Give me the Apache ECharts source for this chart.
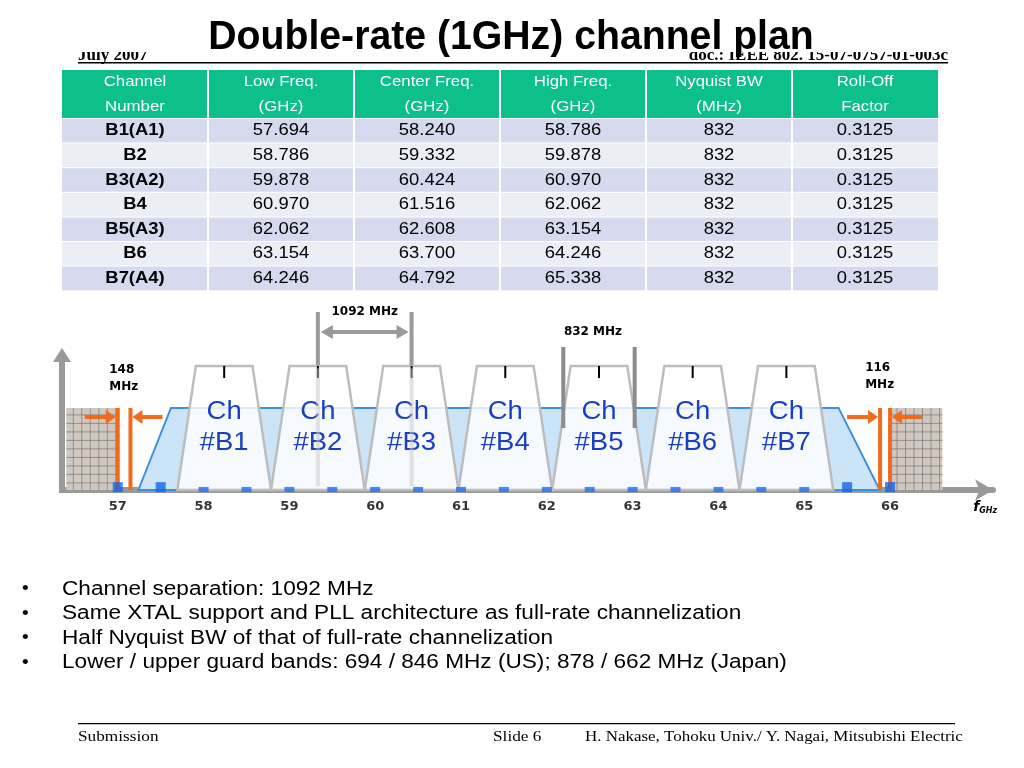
<!DOCTYPE html>
<html><head><meta charset="utf-8">
<script src="https://cdn.jsdelivr.net/npm/echarts@6/dist/echarts.min.js"></script>
<style>html,body{margin:0;padding:0;background:#fff}#c{width:1024px;height:768px}</style>
</head><body><div id="c"></div>
<script>
const channels = ['B1(A1)','B2','B3(A2)','B4','B5(A3)','B6','B7(A4)'];
const lowFreq = [57.694,58.786,59.878,60.970,62.062,63.154,64.246];
const centerFreq = [58.240,59.332,60.424,61.516,62.608,63.700,64.792];
const highFreq = [58.786,59.878,60.970,62.062,63.154,64.246,65.338];
const nyquistBW = [832,832,832,832,832,832,832];
const rollOff = ['0.3125','0.3125','0.3125','0.3125','0.3125','0.3125','0.3125'];
const headers1 = ['Channel','Low Freq.','Center Freq.','High Freq.','Nyquist BW','Roll-Off'];
const headers2 = ['Number','(GHz)','(GHz)','(GHz)','(MHz)','Factor'];
const axisTicks = [57,58,59,60,61,62,63,64,65,66];
const fullRateEdges = [57.24, 65.88];
const guardLow = [57.0, 57.148];
const guardHigh = [65.884, 66.0];
const sepMarkers = [59.332, 60.424];
const bwMarkers = [62.192, 63.024];
const bigSquares = [57, 57.5, 65.5, 66];
const smallSquares = [58,58.5,59,59.5,60,60.5,61,61.5,62,62.5,63,63.5,64,64.5,65];
const bullets = ['Channel separation: 1092 MHz','Same XTAL support and PLL architecture as full-rate channelization','Half Nyquist BW of that of full-rate channelization','Lower / upper guard bands: 694 / 846 MHz (US); 878 / 662 MHz (Japan)'];

const F = 'Liberation Sans, Arial, sans-serif';
const chart = echarts.init(document.getElementById('c'));
const g = [];
g.push({type:'text',x:78,y:56,style:{text:'July 2007',font:'bold 17px Liberation Serif',fill:'#000',verticalAlign:'middle'}});
g.push({type:'text',x:948,y:56,style:{text:'doc.: IEEE 802. 15-07-0757-01-003c',font:'bold 17px Liberation Serif',fill:'#000',align:'right',verticalAlign:'middle'}});
g.push({type:'rect',shape:{x:78,y:62,width:870,height:1.5},style:{fill:'#000'}});
g.push({type:'rect',shape:{x:0,y:0,width:1024,height:52},style:{fill:'#fff'}});
g.push({type:'text',x:511,y:38,scaleX:0.98,style:{text:'Double-rate (1GHz) channel plan',font:'bold 40px '+F,fill:'#000',align:'center',verticalAlign:'middle'}});
const colX=[62,208,354,500,646,792,938];
g.push({type:'rect',shape:{x:62,y:70,width:876,height:48},style:{fill:'#0dbf8b'}});
for(let i=0;i<6;i++){
  const cx=(colX[i]+colX[i+1])/2;
  g.push({type:'text',x:cx,y:82,scaleX:1.12,style:{text:headers1[i],font:'15px '+F,fill:'#fff',align:'center',verticalAlign:'middle'}});
  g.push({type:'text',x:cx,y:107,scaleX:1.12,style:{text:headers2[i],font:'15px '+F,fill:'#fff',align:'center',verticalAlign:'middle'}});
  if(i>0) g.push({type:'rect',shape:{x:colX[i]-1,y:70,width:2,height:221},style:{fill:'#fff'}});
}
for(let r=0;r<channels.length;r++){
  const y=119+r*24.6;
  g.push({type:'rect',z:-1,shape:{x:62,y:y,width:876,height:23.6},style:{fill:r%2?'#eceef6':'#d5daee'}});
  const vals=[channels[r],lowFreq[r].toFixed(3),centerFreq[r].toFixed(3),highFreq[r].toFixed(3),String(nyquistBW[r]),rollOff[r]];
  for(let i=0;i<6;i++) g.push({type:'text',x:(colX[i]+colX[i+1])/2,y:y+12,scaleX:1.15,style:{text:vals[i],font:(i==0?'bold ':'')+'16px '+F,fill:'#000',align:'center',verticalAlign:'middle'}});
}
bullets.forEach((b,i)=>{
  g.push({type:'text',x:22,y:589+i*24.5,style:{text:'•',font:'19px '+F,fill:'#000',verticalAlign:'middle'}});
  g.push({type:'text',x:62,y:589+i*24.5,scaleX:1.13,style:{text:b,font:'20px '+F,fill:'#000',verticalAlign:'middle'}});
});
g.push({type:'rect',shape:{x:78,y:723,width:877,height:1.2},style:{fill:'#000'}});
g.push({type:'text',x:78,y:737,scaleX:1.15,style:{text:'Submission',font:'15px Liberation Serif',fill:'#000',verticalAlign:'middle'}});
g.push({type:'text',x:493,y:737,scaleX:1.15,style:{text:'Slide 6',font:'15px Liberation Serif',fill:'#000',verticalAlign:'middle'}});
g.push({type:'text',x:585,y:737,scaleX:1.13,style:{text:'H. Nakase, Tohoku Univ./ Y. Nagai, Mitsubishi Electric',font:'15px Liberation Serif',fill:'#000',verticalAlign:'middle'}});

const BLUE_TOP=0.432, CH_TOP=0.653;
function line(a,b,stroke,w){return {type:'line',shape:{x1:a[0],y1:a[1],x2:b[0],y2:b[1]},style:{stroke:stroke,lineWidth:w}};}

const series = [
  {type:'custom',z:2,data:[fullRateEdges],renderItem:(p,api)=>{
    const a=api.value(0),b=api.value(1);
    const pts=[api.coord([a,0]),api.coord([57.62,BLUE_TOP]),api.coord([65.40,BLUE_TOP]),api.coord([b,0])];
    return {type:'polygon',shape:{points:pts},style:{fill:'#cce4f7',stroke:'#3d8fe0',lineWidth:2}};
  }},
  {type:'custom',z:2,data:[[56.40,guardLow[0]],[guardHigh[1],66.61]],renderItem:(p,api)=>{
    const p0=api.coord([api.value(0),BLUE_TOP]),p1=api.coord([api.value(1),0]);
    const ch=[{type:'rect',shape:{x:p0[0],y:p0[1],width:p1[0]-p0[0],height:p1[1]-p0[1]},style:{fill:'#d0c8c0'}}];
    for(let x=p0[0]+7;x<p1[0];x+=8.5) ch.push(line([x,p0[1]],[x,p1[1]],'#777',0.7));
    for(let y=p0[1]+7;y<p1[1];y+=8.5) ch.push(line([p0[0],y],[p1[0],y],'#777',0.7));
    return {type:'group',children:ch};
  }},
  {type:'custom',z:3,data:channels.map((c,i)=>[lowFreq[i],highFreq[i],centerFreq[i]]),renderItem:(p,api)=>{
    const l=api.value(0),h=api.value(1),c=api.value(2);
    const pts=[api.coord([l,0]),api.coord([c-0.33,CH_TOP]),api.coord([c+0.33,CH_TOP]),api.coord([h,0])];
    const t1=api.coord([c,CH_TOP]),t2=api.coord([c,0.589]);
    return {type:'group',children:[
      {type:'polygon',shape:{points:pts},style:{fill:'rgba(255,255,255,0.82)',stroke:'#bdbdbd',lineWidth:2.5}},
      line(t1,t2,'#000',2),
      {type:'text',x:t1[0],y:api.coord([c,0.33])[1],scaleX:1.1,style:{text:'Ch\n#'+channels[p.dataIndex].slice(0,2),font:'25px '+F,fill:'#1a3fc0',align:'center',verticalAlign:'middle',lineHeight:31}}
    ]};
  }},
  {type:'custom',z:5,data:[[guardLow[0],guardLow[1],-1],[guardHigh[0],guardHigh[1],1]],renderItem:(p,api)=>{
    const a=api.value(0),b=api.value(1);
    const A0=api.coord([a,0]),A1=api.coord([a,BLUE_TOP]),B0=api.coord([b,0]),B1=api.coord([b,BLUE_TOP]);
    const y=api.coord([a,0.384])[1];
    const o='#f26a1b';
    function arrow(x1,x2){const d=x2>x1?1:-1;return [line([x1,y],[x2-d*8,y],o,4),{type:'polygon',shape:{points:[[x2,y],[x2-d*10,y-7],[x2-d*10,y+7]]},style:{fill:o}}];}
    return {type:'group',children:[line(A0,A1,o,4),line(B0,B1,o,4)].concat(arrow(A0[0]-33,A0[0]-2),arrow(B0[0]+32,B0[0]+2))};
  }},
  {type:'custom',z:6,data:[[sepMarkers[0],sepMarkers[1],0],[bwMarkers[0],bwMarkers[1],1]],renderItem:(p,api)=>{
    const a=api.value(0),b=api.value(1),k=api.value(2);
    const ch=[];
    if(k===0){
      ch.push(line(api.coord([a,0.937]),api.coord([a,0.658]),'#9a9a9a',4),line(api.coord([b,0.937]),api.coord([b,0.658]),'#9a9a9a',4));
      ch.push(line(api.coord([a,0.64]),api.coord([a,0.02]),'rgba(200,200,200,0.5)',4),line(api.coord([b,0.64]),api.coord([b,0.02]),'rgba(200,200,200,0.5)',4));
      const A=api.coord([a,0.832]),B=api.coord([b,0.832]);
      ch.push(line([A[0]+12,A[1]],[B[0]-12,B[1]],'#9a9a9a',4));
      ch.push({type:'polygon',shape:{points:[[A[0]+3,A[1]],[A[0]+15,A[1]-7],[A[0]+15,A[1]+7]]},style:{fill:'#9a9a9a'}});
      ch.push({type:'polygon',shape:{points:[[B[0]-3,B[1]],[B[0]-15,B[1]-7],[B[0]-15,B[1]+7]]},style:{fill:'#9a9a9a'}});
      ch.push({type:'text',x:(A[0]+B[0])/2,y:api.coord([a,0.94])[1],style:{text:'1092 MHz',font:'bold 12px DejaVu Sans',fill:'#000',align:'center',verticalAlign:'middle'}});
    } else {
      ch.push(line(api.coord([a,0.753]),api.coord([a,0.326]),'#8c8c8c',4),line(api.coord([b,0.753]),api.coord([b,0.326]),'#8c8c8c',4));
      ch.push({type:'text',x:api.coord([(a+b)/2,0])[0]-6,y:api.coord([a,0.832])[1],style:{text:'832 MHz',font:'bold 12px DejaVu Sans',fill:'#000',align:'center',verticalAlign:'middle'}});
    }
    return {type:'group',children:ch};
  }},
  {type:'custom',z:4,data:[[56.35]],renderItem:(p,api)=>{
    const b=api.coord([56.35,0]),t=api.coord([56.35,0.747]);
    return {type:'group',children:[line([b[0],b[1]+3],[t[0],t[1]+12],'#999',6),
      {type:'polygon',shape:{points:[[t[0],t[1]],[t[0]-9,t[1]+14],[t[0]+9,t[1]+14]]},style:{fill:'#999'}},
      {type:'text',x:api.coord([56.90,0])[0],y:api.coord([0,0.59])[1],style:{text:'148\nMHz',font:'bold 12px DejaVu Sans',fill:'#000',verticalAlign:'middle',lineHeight:17}},
      {type:'text',x:api.coord([65.71,0])[0],y:api.coord([0,0.6])[1],style:{text:'116\nMHz',font:'bold 12px DejaVu Sans',fill:'#000',verticalAlign:'middle',lineHeight:17}},
      {type:'text',x:api.coord([66.97,0])[0],y:b[1]+17,style:{text:'f',font:'italic bold 14px DejaVu Sans',fill:'#000',verticalAlign:'middle'}},
      {type:'text',x:api.coord([66.97,0])[0]+6,y:b[1]+21,style:{text:'GHz',font:'italic bold 8px DejaVu Sans',fill:'#000',verticalAlign:'middle'}}
    ]};
  }},
  {type:'scatter',z:7,symbol:'rect',symbolSize:[10,10],itemStyle:{color:'#1565e8'},data:bigSquares.map(v=>[v,0.015]),silent:true},
  {type:'scatter',z:7,symbol:'rect',symbolSize:[10,5],itemStyle:{color:'#1e6ff0'},data:smallSquares.map(v=>[v,0.003]),silent:true},
  {type:'scatter',z:7,symbolSize:0,data:axisTicks.map(v=>[v,0]),label:{show:true,position:'inside',offset:[0,17],formatter:p=>String(p.value[0]),fontWeight:'bold',fontSize:13,fontFamily:'DejaVu Sans',color:'#000'},silent:true}
];

chart.setOption({
  animation:false,
  graphic:g,
  grid:{left:62,right:31,top:300,bottom:278},
  xAxis:{type:'value',min:56.35,max:67.2,axisLabel:{show:false},axisTick:{show:false},splitLine:{show:false},
    axisLine:{onZero:false,symbol:['none','arrow'],symbolSize:[16,18],lineStyle:{color:'#999',width:6}}},
  yAxis:{type:'value',min:0,max:1,show:false},
  series:series
});
</script></body></html>
